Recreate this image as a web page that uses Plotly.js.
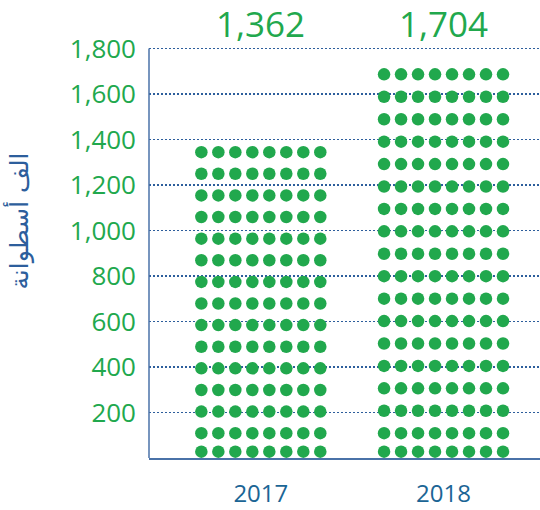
<!DOCTYPE html>
<html>
<head>
<meta charset="utf-8">
<script src="https://cdn.plot.ly/plotly-3.0.1.min.js"></script>
<style>html,body{margin:0;padding:0;background:#fff}#chart{width:540px;height:510px}</style>
</head>
<body>
<div id="chart"></div>
<script>
// ---- data ----
const years = ['2017', '2018'];
const totals = [1362, 1704];
const totalLabels = ['1,362', '1,704'];
const dotRows = [15, 18];
const dotCols = 8;
const yTickVals = [200, 400, 600, 800, 1000, 1200, 1400, 1600, 1800];
const yTickText = ['200', '400', '600', '800', '1,000', '1,200', '1,400', '1,600', '1,800'];
const yTitle = 'الف أسطوانة';

// ---- styles ----
const green = '#21a84d';
const blue = '#2d5e9c';
const colStep = 0.093;
const baseRow = 28, secondRow = 109, topGap = 18;

const xs = [], ys = [];
years.forEach((yr, i) => {
  const n = dotRows[i];
  const top = totals[i] - topGap;
  const rows = [baseRow];
  for (let r = 0; r < n - 1; r++) rows.push(secondRow + (top - secondRow) * r / (n - 2));
  rows.forEach(yv => {
    for (let c = 0; c < dotCols; c++) {
      xs.push(i + (c - (dotCols - 1) / 2) * colStep);
      ys.push(yv);
    }
  });
});

const trace = {
  type: 'scatter', mode: 'markers', x: xs, y: ys,
  marker: {size: 12.5, color: green, line: {width: 0}},
  hoverinfo: 'skip', showlegend: false, cliponaxis: false
};

const annotations = years.map((yr, i) => ({
  x: i, xref: 'x', y: 1.053, yref: 'paper', text: totalLabels[i], showarrow: false,
  font: {family: 'Open Sans', size: 35, color: green}, xanchor: 'center', yanchor: 'middle'
}));
annotations.push({
  x: -0.335, xref: 'paper', y: 0.5726, yref: 'paper', text: yTitle, showarrow: false,
  textangle: -90, font: {family: 'DejaVu Sans', size: 25, color: blue},
  xanchor: 'center', yanchor: 'middle'
});

const layout = {
  width: 540, height: 510,
  margin: {l: 149, r: 0, t: 45, b: 52},
  paper_bgcolor: '#fff', plot_bgcolor: '#fff',
  xaxis: {
    range: [-0.612, 1.528], tickvals: [0, 1], ticktext: years,
    showgrid: false, zeroline: false, showline: true, linecolor: '#4a72a8', linewidth: 1.5,
    ticks: '', ticklabelstandoff: 14,
    tickfont: {family: 'Open Sans', size: 24, color: '#1b6595'}
  },
  yaxis: {
    range: [0, 1815], tickvals: yTickVals, ticktext: yTickText,
    showgrid: true, gridcolor: blue, gridwidth: 1.2, griddash: '2px,2px',
    zeroline: false, showline: false,
    ticks: '', ticklabelstandoff: 12,
    tickfont: {family: 'Open Sans', size: 26, color: green}
  },
  shapes: [{
    type: 'line', xref: 'paper', x0: 0, x1: 0, yref: 'y', y0: 0, y1: 1800,
    line: {color: '#4a72a8', width: 1.5}
  }],
  annotations: annotations
};

Plotly.newPlot('chart', [trace], layout, {displayModeBar: false, staticPlot: true});
</script>
</body>
</html>
